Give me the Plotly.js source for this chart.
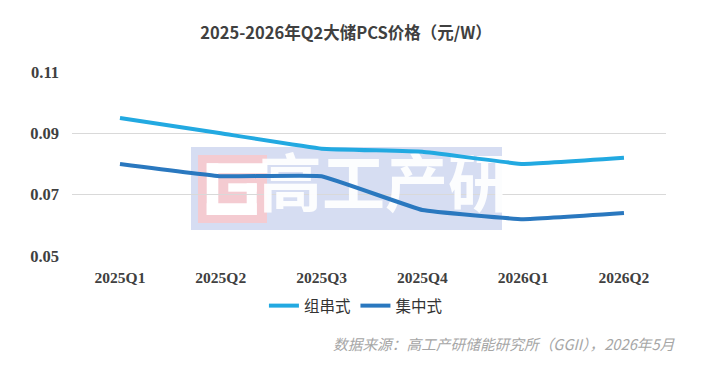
<!DOCTYPE html>
<html>
<head>
<meta charset="utf-8">
<script src="https://cdn.plot.ly/plotly-3.0.1.min.js"></script>
<style>html,body{margin:0;padding:0;background:#fff;}#chart{width:702px;height:366px;}</style>
</head>
<body>
<div id="chart"></div>
<script>
const categories = ["2025Q1", "2025Q2", "2025Q3", "2025Q4", "2026Q1", "2026Q2"];
const stringValues = [0.095, 0.090, 0.085, 0.084, 0.080, 0.082];
const centralValues = [0.080, 0.076, 0.076, 0.065, 0.062, 0.064];
const seriesNames = ["组串式", "集中式"];
const titleText = "2025-2026年Q2大储PCS价格（元/W）";
const sourceText = "数据来源：高工产研储能研究所（GGII），2026年5月";
const watermarkText = "高工产研";

const xIdx = categories.map((c, i) => i);

const pink = "#F4CBD1", white = "#FFFFFF";
function box(x0, x1, y0, y1, color) {
  return {type: "rect", xref: "paper", yref: "paper", x0: x0, x1: x1, y0: y0, y1: y1,
          fillcolor: color, line: {width: 0}, layer: "below"};
}

const traces = [
  {
    x: [2.63], y: [0.0716], mode: "text", text: [watermarkText],
    textfont: {family: "Noto Sans CJK SC", size: 63, color: "rgba(255,255,255,0.92)", weight: 700},
    textposition: "middle center", showlegend: false, hoverinfo: "skip"
  },
  {
    x: xIdx, y: stringValues, name: seriesNames[0], mode: "lines",
    line: {color: "#22A9E1", width: 4, shape: "spline", smoothing: 0.25}
  },
  {
    x: xIdx, y: centralValues, name: seriesNames[1], mode: "lines",
    line: {color: "#2A78BF", width: 4, shape: "spline", smoothing: 0.25}
  }
];

const layout = {
  width: 702, height: 366,
  margin: {l: 72, r: 36, t: 72, b: 110},
  paper_bgcolor: "#ffffff", plot_bgcolor: "#ffffff",
  title: {
    text: titleText, xref: "container", yref: "container",
    x: 0.493, xanchor: "center", y: 0.91, yanchor: "middle",
    font: {family: "Noto Sans CJK SC", size: 16.5, color: "#404040", weight: 700}
  },
  xaxis: {
    type: "linear", range: [-0.476, 5.417],
    tickvals: xIdx, ticktext: categories,
    showgrid: false, zeroline: false, showline: false, ticks: "",
    ticklabelstandoff: 10,
    tickfont: {family: "Liberation Serif", size: 15.5, color: "#404040", weight: 700}
  },
  yaxis: {
    range: [0.05, 0.11], tickvals: [0.05, 0.07, 0.09, 0.11], tickformat: ".2f",
    showgrid: true, gridcolor: "#D9D9D9", gridwidth: 1,
    zeroline: false, showline: false, ticks: "", ticklabelstandoff: 12,
    tickfont: {family: "Liberation Serif", size: 16.5, color: "#404040", weight: 700}
  },
  legend: {
    orientation: "h", x: 0.478, xanchor: "center", xref: "paper",
    y: -0.272, yanchor: "middle",
    font: {family: "Noto Sans CJK SC", size: 15.5, color: "#333333"},
    itemwidth: 30, tracegroupgap: 0
  },
  shapes: [
    box(0.2003, 0.7239, 0.1413, 0.5924, "#D6DDF2"),
    box(0.2121, 0.3283, 0.1793, 0.5489, pink),
    box(0.2268, 0.2463, 0.2228, 0.5038, white),
    box(0.2268, 0.3290, 0.4495, 0.5038, white),
    box(0.2268, 0.3110, 0.2228, 0.2864, white),
    box(0.2941, 0.3110, 0.2228, 0.3951, white),
    box(0.2631, 0.3110, 0.3495, 0.3951, white)
  ],
  annotations: [
    {text: sourceText, xref: "paper", yref: "paper", x: 1.0185, xanchor: "right",
     y: -0.478, yanchor: "middle", showarrow: false,
     font: {family: "Noto Sans CJK SC", size: 14.7, color: "#A6A6A6", style: "italic"}}
  ],
  showlegend: true
};

Plotly.newPlot("chart", traces, layout, {displayModeBar: false, staticPlot: true});
</script>
</body>
</html>
